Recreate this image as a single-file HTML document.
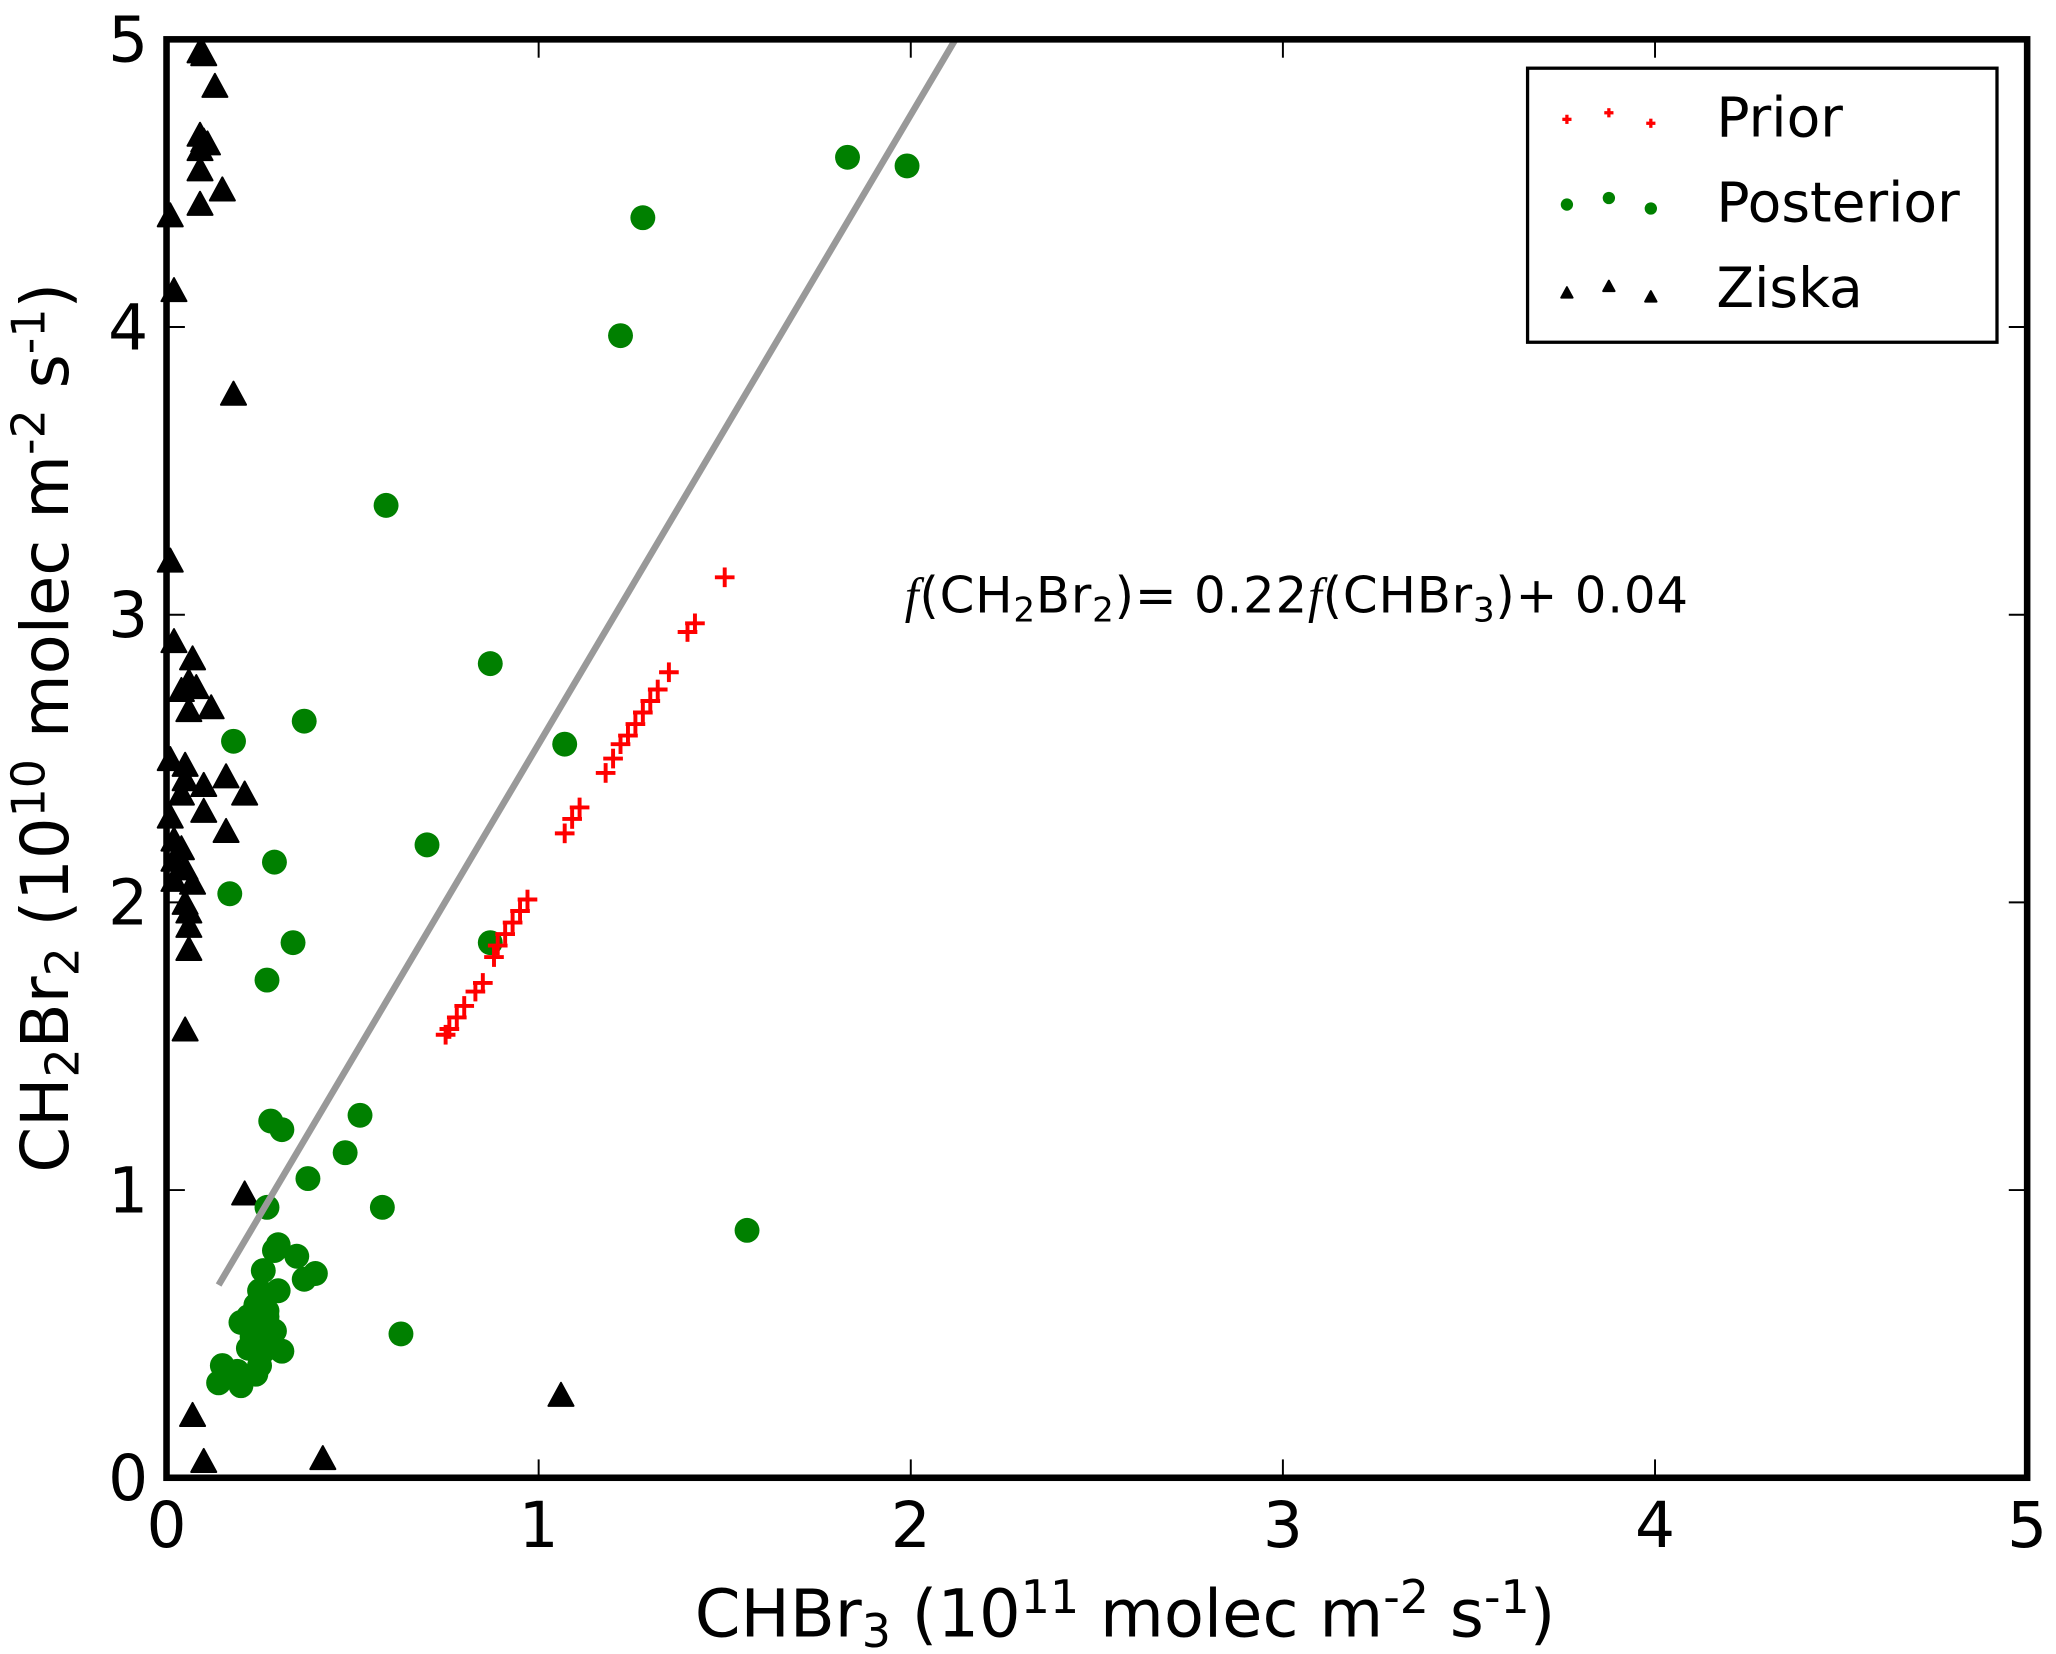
<!DOCTYPE html>
<html><head><meta charset="utf-8"><style>
html,body{margin:0;padding:0;background:#fff;}
svg{display:block;font-family:"DejaVu Sans","Liberation Sans",sans-serif;}
</style></head><body>
<svg id="chart" width="2056" height="1654" viewBox="0 0 1568 1261.4" xmlns="http://www.w3.org/2000/svg">
<rect width="1568" height="1261.4" fill="#fff"/>
<g id="marks"></g>
<g id="axes"></g>
<g>
<rect x="1165" y="52" width="358" height="209" fill="#fff" stroke="#000" stroke-width="2.5"/>
<g id="legmarks"></g>
<text x="1309" y="104" font-size="42">Prior</text>
<text x="1309" y="169" font-size="42">Posterior</text>
<text x="1309" y="234" font-size="42">Ziska</text>
</g>
<text x="690" y="467" font-size="38" letter-spacing="0.6"><tspan font-family="Liberation Serif,serif" font-style="italic">f</tspan>(CH<tspan font-size="26" dy="7">2</tspan><tspan dy="-7">Br</tspan><tspan font-size="26" dy="7">2</tspan><tspan dy="-7">)= 0.22</tspan><tspan font-family="Liberation Serif,serif" font-style="italic">f</tspan>(CHBr<tspan font-size="26" dy="7">3</tspan><tspan dy="-7">)+ 0.04</tspan></text>
<text x="858" y="1248" font-size="50" text-anchor="middle">CHBr<tspan font-size="35" dy="8">3</tspan><tspan dy="-8"> (10</tspan><tspan font-size="35" dy="-18">11</tspan><tspan dy="18"> molec  m</tspan><tspan font-size="35" dy="-18">-2</tspan><tspan dy="18"> s</tspan><tspan font-size="35" dy="-18">-1</tspan><tspan dy="18">)</tspan></text>
<text transform="translate(52,555) rotate(-90)" font-size="50" text-anchor="middle">CH<tspan font-size="35" dy="8">2</tspan><tspan dy="-8">Br</tspan><tspan font-size="35" dy="8">2</tspan><tspan dy="-8"> (10</tspan><tspan font-size="35" dy="-18">10</tspan><tspan dy="18"> molec  m</tspan><tspan font-size="35" dy="-18">-2</tspan><tspan dy="18"> s</tspan><tspan font-size="35" dy="-18">-1</tspan><tspan dy="18">)</tspan></text>
</svg>
<script>
const xTicks=[0,1,2,3,4,5];
const yTicks=[0,1,2,3,4,5];
const priorX=[0.75,0.76,0.78,0.80,0.83,0.85,0.88,0.89,0.91,0.93,0.95,0.97,1.07,1.09,1.11,1.18,1.20,1.22,1.24,1.26,1.28,1.30,1.32,1.35,1.40,1.42,1.50];
const priorY=[1.54,1.56,1.60,1.64,1.69,1.72,1.81,1.85,1.89,1.93,1.97,2.01,2.24,2.29,2.33,2.45,2.50,2.55,2.58,2.62,2.66,2.70,2.74,2.80,2.94,2.97,3.13];
const postX=[1.99,1.83,1.28,1.22,0.59,0.87,0.37,1.07,0.18,0.70,0.29,0.17,0.34,0.87,0.27,0.52,0.28,0.31,0.48,0.38,0.58,0.27,1.56,0.63,0.30,0.29,0.35,0.30,0.37,0.40,0.26,0.25,0.24,0.27,0.22,0.20,0.26,0.23,0.29,0.22,0.26,0.31,0.25,0.15,0.19,0.14,0.20,0.24,0.27];
const postY=[4.56,4.59,4.38,3.97,3.38,2.83,2.63,2.55,2.56,2.20,2.14,2.03,1.86,1.86,1.73,1.26,1.24,1.21,1.13,1.04,0.94,0.94,0.86,0.50,0.81,0.79,0.77,0.65,0.69,0.71,0.72,0.65,0.60,0.58,0.56,0.54,0.52,0.49,0.51,0.45,0.44,0.44,0.39,0.39,0.37,0.33,0.32,0.36,0.56];
const ziskaX=[0.09,0.10,0.13,0.09,0.10,0.11,0.09,0.09,0.15,0.09,0.01,0.02,0.18,0.01,0.02,0.07,0.06,0.08,0.04,0.12,0.06,0.01,0.05,0.05,0.16,0.10,0.21,0.04,0.10,0.01,0.16,0.02,0.04,0.02,0.05,0.02,0.07,0.05,0.06,0.06,0.06,0.05,0.21,0.07,0.10,0.42,1.06];
const ziskaY=[4.95,4.94,4.83,4.66,4.64,4.63,4.61,4.54,4.47,4.42,4.38,4.12,3.76,3.18,2.90,2.84,2.76,2.74,2.73,2.67,2.66,2.49,2.47,2.42,2.43,2.40,2.37,2.37,2.31,2.29,2.24,2.21,2.18,2.14,2.11,2.07,2.06,1.99,1.96,1.91,1.83,1.55,0.98,0.21,0.05,0.06,0.28];
const fitX=[0.14,2.12];
const fitY=[0.67,5.0];

const NS="http://www.w3.org/2000/svg";
const X0=127,X1=1546,Y0=1127,Y1=30;
function sx(v){return X0+(v-0)/(5-0)*(X1-X0);}
function sy(v){return Y0-(v-0)/(5-0)*(Y0-Y1);}
function mk(tag,attrs,parent){const e=document.createElementNS(NS,tag);for(const k in attrs)e.setAttribute(k,attrs[k]);parent.appendChild(e);return e;}
const marks=document.getElementById('marks');
const axes=document.getElementById('axes');
const leg=document.getElementById('legmarks');

function tri(cx,cy,s,parent){
  const p=mk('polygon',{points:`${cx},${cy-s} ${cx-s*0.87},${cy+s*0.6} ${cx+s*0.87},${cy+s*0.6}`,fill:'#000',stroke:'#000','stroke-width':1.5,'stroke-linejoin':'round'},parent);
  return p;
}
function cross(cx,cy,s,w,parent){
  const g=mk('g',{},parent);
  mk('line',{x1:cx-s,y1:cy,x2:cx+s,y2:cy,stroke:'#f00','stroke-width':w},g);
  mk('line',{x1:cx,y1:cy-s,x2:cx,y2:cy+s,stroke:'#f00','stroke-width':w},g);
  return g;
}

for(let i=0;i<ziskaX.length;i++){
  const t=tri(sx(ziskaX[i]),sy(ziskaY[i]),11,marks);
  
  
}
for(let i=0;i<postX.length;i++){
  const c=mk('circle',{cx:sx(postX[i]),cy:sy(postY[i]),r:9.5,fill:'#008000'},marks);
  
  
}
const fl=mk('line',{x1:sx(fitX[0]),y1:sy(fitY[0]),x2:sx(fitX[1]),y2:sy(fitY[1]),stroke:'#999','stroke-width':5},marks);


for(let i=0;i<priorX.length;i++){
  const c=cross(sx(priorX[i]),sy(priorY[i]),7.5,3,marks);
  
  
}

const fr=mk('rect',{x:X0,y:Y1,width:X1-X0,height:Y0-Y1,fill:'none',stroke:'#000','stroke-width':5},axes);


for(const t of xTicks){
  const x=sx(t);
  if(t>0&&t<5){
    mk('line',{x1:x,y1:Y0,x2:x,y2:Y0-14,stroke:'#000','stroke-width':1.5},axes);
    mk('line',{x1:x,y1:Y1,x2:x,y2:Y1+14,stroke:'#000','stroke-width':1.5},axes);
  }
  const tx=mk('text',{x:x,y:1180,'font-size':48,'text-anchor':'middle'},axes);
  tx.textContent=String(t);
  
  
}
for(const t of yTicks){
  const y=sy(t);
  if(t>0&&t<5){
    mk('line',{x1:X0,y1:y,x2:X0+14,y2:y,stroke:'#000','stroke-width':1.5},axes);
    mk('line',{x1:X1,y1:y,x2:X1-14,y2:y,stroke:'#000','stroke-width':1.5},axes);
  }
  const ty=mk('text',{x:113,y:y+17,'font-size':48,'text-anchor':'end'},axes);
  ty.textContent=String(t);
  
  
}

const lx=[1195,1227,1259], ldy=[-1,-6,2];
for(let i=0;i<3;i++){
  cross(lx[i],92+ldy[i],3.5,2.5,leg);
  mk('circle',{cx:lx[i],cy:157+ldy[i],r:4.7,fill:'#008000'},leg);
  tri(lx[i],225+ldy[i],5,leg);
}
</script>
</body></html>
